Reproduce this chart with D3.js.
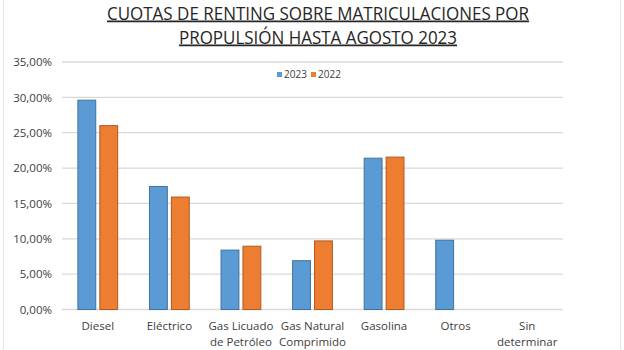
<!DOCTYPE html>
<html>
<head>
<meta charset="utf-8">
<script src="https://cdn.jsdelivr.net/npm/d3@7"></script>
<style>
  body { margin: 0; background: #fff; }
  text { font-family: "Open Sans", "Noto Sans", sans-serif; }
</style>
</head>
<body>
<svg id="chart" width="624" height="350"></svg>
<script>
const categories = ["Diesel", "Eléctrico", "Gas Licuado\nde Petróleo", "Gas Natural\nComprimido", "Gasolina", "Otros", "Sin\ndeterminar"];
const series = ["2023", "2022"];
const values2023 = [29.6, 17.4, 8.4, 6.9, 21.4, 9.8, null];
const values2022 = [26.0, 15.9, 8.95, 9.7, 21.55, null, null];
const yTicks = [0, 5, 10, 15, 20, 25, 30, 35];
const titleLines = ["CUOTAS DE RENTING SOBRE MATRICULACIONES POR", "PROPULSIÓN HASTA AGOSTO 2023"];

const svg = d3.select("#chart");
const colors = { "2023": "#5b9bd5", "2022": "#ed7d31" };
const strokes = { "2023": "#41719c", "2022": "#ae5a21" };

// faint frame
svg.append("rect").attr("x", 3.5).attr("y", -2).attr("width", 617).attr("height", 360)
  .attr("fill", "none").attr("stroke", "#e4e4e4");

const x = d3.scaleBand().domain(categories).range([62, 563]).paddingInner(0.43).paddingOuter(0.215);
const xs = d3.scaleBand().domain(series).range([0, x.bandwidth()]).paddingInner(0.14);
const y = d3.scaleLinear().domain([0, 35]).range([309.5, 62]);

// gridlines
svg.append("g").selectAll("line").data(yTicks).join("line")
  .attr("x1", 62).attr("x2", 563)
  .attr("y1", d => y(d)).attr("y2", d => y(d))
  .attr("stroke", "#d9d9d9").attr("stroke-width", 1.3);

// y axis labels
const yAxis = svg.append("g").attr("transform", "translate(56,0)")
  .call(d3.axisLeft(y).tickValues(yTicks).tickSize(0).tickPadding(4)
    .tickFormat(d => d3.format(".2f")(d).replace(".", ",") + "%"));
yAxis.select(".domain").remove();
yAxis.selectAll("text").attr("font-size", 11.5).attr("fill", "#404040")
  .style("font-family", "'Open Sans', sans-serif");

// bars
const rows = categories.map((c, i) => ({ cat: c, vals: [
  { s: "2023", v: values2023[i] }, { s: "2022", v: values2022[i] }
]}));
const groups = svg.append("g").selectAll("g").data(rows).join("g")
  .attr("transform", d => `translate(${x(d.cat)},0)`);
groups.selectAll("rect").data(d => d.vals.filter(v => v.v != null)).join("rect")
  .attr("x", d => xs(d.s) + 0.5)
  .attr("y", d => y(d.v))
  .attr("width", xs.bandwidth() - 1)
  .attr("height", d => y(0) - y(d.v))
  .attr("fill", d => colors[d.s])
  .attr("stroke", d => strokes[d.s]).attr("stroke-width", 1);

// x labels
const xl = svg.append("g").selectAll("text").data(categories).join("text")
  .attr("x", d => x(d) + x.bandwidth() / 2)
  .attr("y", 330)
  .attr("text-anchor", "middle")
  .attr("font-size", 11.5).attr("fill", "#404040");
xl.selectAll("tspan").data(d => d.split("\n")).join("tspan")
  .attr("x", function() { return d3.select(this.parentNode).attr("x"); })
  .attr("dy", (d, i) => i === 0 ? 0 : 16)
  .text(d => d);

// legend
const legend = svg.append("g").selectAll("g").data(series).join("g")
  .attr("transform", (d, i) => `translate(${277 + i * 34},71)`);
legend.append("rect").attr("width", 5).attr("height", 5).attr("y", 1)
  .attr("fill", d => colors[d]);
legend.append("text").attr("x", 7).attr("y", 7).attr("font-size", 10)
  .attr("fill", "#404040").text(d => d);

// title
svg.append("g").selectAll("text").data(titleLines).join("text")
  .attr("x", 318).attr("y", (d, i) => 19.5 + i * 24)
  .attr("text-anchor", "middle")
  .attr("font-size", 17.5).attr("fill", "#262626")
  .attr("text-decoration", "underline")
  .attr("textLength", (d, i) => i === 0 ? 422 : 278)
  .attr("lengthAdjust", "spacingAndGlyphs")
  .text(d => d);
</script>
</body>
</html>
